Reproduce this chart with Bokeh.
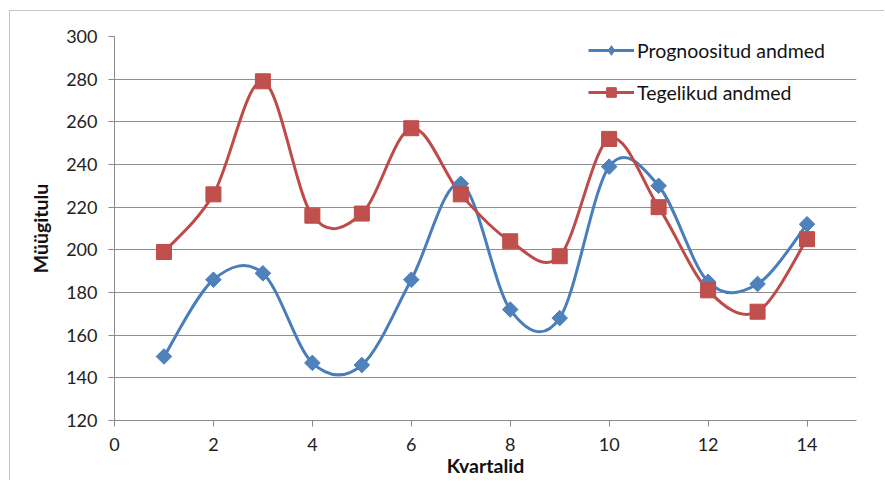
import math

from bokeh.plotting import figure
from bokeh.models import ColumnDataSource, FixedTicker, Legend, LegendItem
from bokeh.embed import file_html
from bokeh.resources import INLINE

# Quarterly sales: forecast vs actual
quarters = [1, 2, 3, 4, 5, 6, 7, 8, 9, 10, 11, 12, 13, 14]
forecast = [150, 186, 189, 147, 146, 186, 231, 172, 168, 239, 230, 185, 184, 212]
actual = [199, 226, 279, 216, 217, 257, 226, 204, 197, 252, 220, 181, 171, 205]

x_ticks = [0, 2, 4, 6, 8, 10, 12, 14]
y_ticks = [120, 140, 160, 180, 200, 220, 240, 260, 280, 300]

FONT = "Lato"


def smooth_segments(xs, ys):
    """Cubic Bezier segments through the points (cardinal spline, Excel-like smoothing)."""
    n = len(xs)
    cols = {k: [] for k in ("x0", "y0", "x1", "y1", "cx0", "cy0", "cx1", "cy1")}
    for i in range(n - 1):
        ip = max(i - 1, 0)
        inn = min(i + 2, n - 1)
        cols["x0"].append(xs[i])
        cols["y0"].append(ys[i])
        cols["x1"].append(xs[i + 1])
        cols["y1"].append(ys[i + 1])
        cols["cx0"].append(xs[i] + (xs[i + 1] - xs[ip]) / 6.0)
        cols["cy0"].append(ys[i] + (ys[i + 1] - ys[ip]) / 6.0)
        cols["cx1"].append(xs[i + 1] - (xs[inn] - xs[i]) / 6.0)
        cols["cy1"].append(ys[i + 1] - (ys[inn] - ys[i]) / 6.0)
    return ColumnDataSource(cols)


p = figure(
    width=875, height=470,
    x_range=(0, 15), y_range=(120, 300),
    output_backend="svg", toolbar_location=None,
    min_border_left=104, min_border_right=29,
    min_border_top=25, min_border_bottom=61,
    background_fill_color="white", border_fill_color="white",
)
p.styles = {
    "margin-left": "9px",
    "margin-top": "10px",
    "border-left": "1px solid #c4c4c4",
    "border-top": "1px solid #c4c4c4",
}
p.outline_line_color = None

# axes
for ax in (p.xaxis[0], p.yaxis[0]):
    ax.axis_line_color = "#8a8a8a"
    ax.axis_line_width = 1
    ax.major_tick_line_color = "#8a8a8a"
    ax.major_tick_in = 0
    ax.major_tick_out = 6
    ax.minor_tick_line_color = None
    ax.major_label_text_font = FONT
    ax.major_label_text_font_size = "18px"
    ax.major_label_text_color = "#222222"
    ax.major_label_standoff = 11
    ax.axis_label_text_font = FONT
    ax.axis_label_text_font_size = "19.5px"
    ax.axis_label_text_font_style = "bold"
    ax.axis_label_text_color = "#111111"

p.xaxis.ticker = FixedTicker(ticks=x_ticks)
p.yaxis.ticker = FixedTicker(ticks=y_ticks)
p.xaxis.axis_label = "Kvartalid"
p.yaxis.axis_label = "Müügitulu"
p.xaxis.axis_label_standoff = 0
p.yaxis.axis_label_standoff = 11

p.xgrid.grid_line_color = None
p.ygrid.grid_line_color = "#8e8e8e"
p.ygrid.grid_line_width = 1

BLUE_LINE, BLUE_FILL = "#4a7ebb", "#4f81bd"
RED_LINE, RED_FILL = "#be4b48", "#c0504d"

# smoothed curves
p.bezier("x0", "y0", "x1", "y1", "cx0", "cy0", "cx1", "cy1",
         source=smooth_segments(quarters, forecast),
         line_color=BLUE_LINE, line_width=3)
p.bezier("x0", "y0", "x1", "y1", "cx0", "cy0", "cx1", "cy1",
         source=smooth_segments(quarters, actual),
         line_color=RED_LINE, line_width=3)

# point markers: rotated squares for the forecast, squares for actuals
pts_f = ColumnDataSource(dict(x=quarters, y=forecast))
pts_a = ColumnDataSource(dict(x=quarters, y=actual))
p.scatter("x", "y", source=pts_f, marker="square", size=11,
          angle=math.pi / 4,
          fill_color=BLUE_FILL, line_color=BLUE_LINE, line_width=1)
p.scatter("x", "y", source=pts_a, marker="square", size=15,
          fill_color=RED_FILL, line_color=RED_LINE, line_width=1)

# legend glyph renderers (placed outside the visible range)
lf = p.line([0], [0], line_color=BLUE_LINE, line_width=3)
la = p.line([0], [0], line_color=RED_LINE, line_width=3)
lf_mk = p.scatter([0], [0], marker="diamond", size=14,
                  fill_color=BLUE_FILL, line_color=BLUE_LINE, line_width=1)
la_mk = p.scatter([0], [0], marker="square", size=13,
                  fill_color=RED_FILL, line_color=RED_LINE, line_width=1)

legend = Legend(
    items=[
        LegendItem(label="Prognoositud andmed", renderers=[lf, lf_mk]),
        LegendItem(label="Tegelikud andmed", renderers=[la, la_mk]),
    ],
    location=(474, 316),
    orientation="vertical",
    glyph_width=46, glyph_height=24, label_height=24,
    spacing=18, padding=0, margin=0, label_standoff=3,
    label_text_font=FONT, label_text_font_size="19.5px",
    label_text_color="#111111",
    border_line_color=None, background_fill_alpha=0,
)
p.add_layout(legend, "center")

open("out.html", "w").write(file_html(p, INLINE))
